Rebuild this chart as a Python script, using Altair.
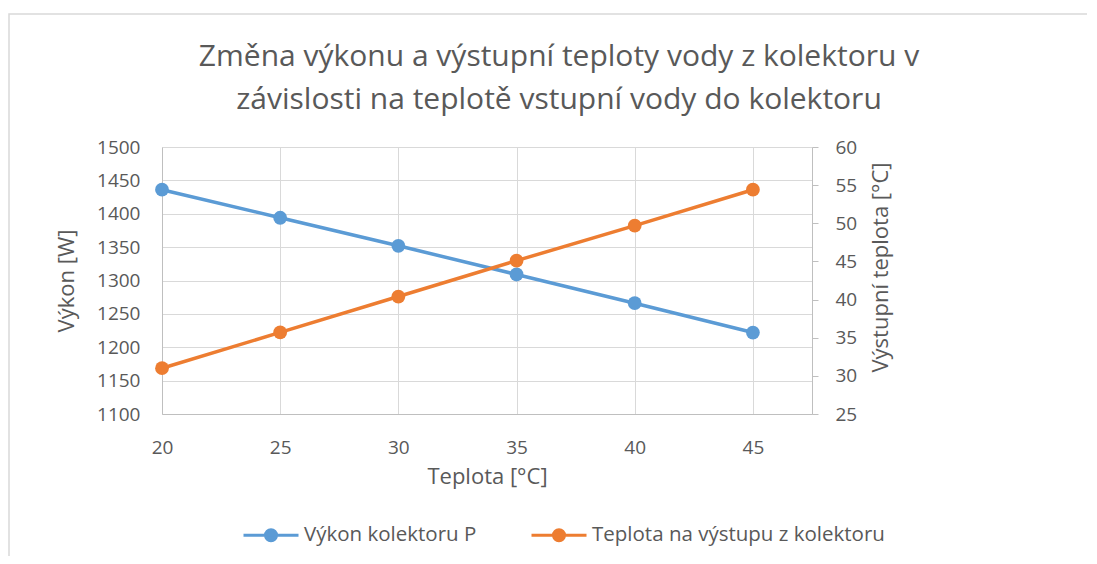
import altair as alt
import pandas as pd

x_vals = [20, 25, 30, 35, 40, 45]
power = [1436, 1394, 1352, 1309, 1266, 1222]
t_out = [31.0, 35.7, 40.4, 45.1, 49.7, 54.4]
series = ["Výkon kolektoru P", "Teplota na výstupu z kolektoru"]
colors = ["#5B9BD5", "#ED7D31"]
x_ticks = [20, 25, 30, 35, 40, 45]
left_ticks = [1100, 1150, 1200, 1250, 1300, 1350, 1400, 1450, 1500]
right_ticks = [25, 30, 35, 40, 45, 50, 55, 60]
title_lines = ["Změna výkonu a výstupní teploty vody z kolektoru v",
               "závislosti na teplotě vstupní vody do kolektoru"]

FONT = "Open Sans"
TXT = "#595959"
GRID = "#D9D9D9"
AX = "#BFBFBF"

df_p = pd.DataFrame({"x": x_vals, "v": power, "s": series[0]})
df_t = pd.DataFrame({"x": x_vals, "v": t_out, "s": series[1]})

legend_path = "M-1,0H1M0.2,0A0.2,0.2,0,1,1,-0.2,0A0.2,0.2,0,1,1,0.2,0Z"

color = alt.Color(
    "s:N",
    scale=alt.Scale(domain=series, range=colors),
    legend=alt.Legend(
        title=None, orient="none", direction="horizontal",
        legendX=80, legendY=359,
        symbolType=legend_path, symbolSize=3025, symbolStrokeWidth=3,
        labelFont=FONT, labelFontSize=20.5, labelColor=TXT, labelOffset=4,
        labelLimit=0, columnPadding=48, padding=0,
    ),
)

x_enc = alt.X(
    "x:Q",
    scale=alt.Scale(domain=[20, 47.5], nice=False, zero=False),
    axis=alt.Axis(
        values=x_ticks, title="Teplota [°C]", grid=True, gridColor=GRID,
        domainColor=AX, ticks=False, labelPadding=24, labelFlush=False, format="d",
        labelFont=FONT, labelFontSize=19, labelColor=TXT,
        titleFont=FONT, titleFontSize=22, titleColor=TXT, titleFontWeight="normal",
        titlePadding=9,
    ),
)

left = alt.Chart(df_p).encode(
    x=x_enc,
    y=alt.Y("v:Q", scale=alt.Scale(domain=[1100, 1500], nice=False, zero=False),
            axis=alt.Axis(values=left_ticks, title="Výkon [W]", grid=True, gridColor=GRID,
                          domainColor=AX, ticks=False, labelPadding=22, format="d",
                          labelFlush=False,
                          labelFont=FONT, labelFontSize=19, labelColor=TXT,
                          titleFont=FONT, titleFontSize=22, titleColor=TXT,
                          titleFontWeight="normal", titlePadding=18)),
    color=color,
)
left_l = left.mark_line(strokeWidth=3.5) + left.mark_point(filled=True, size=190, opacity=1)

right = alt.Chart(df_t).encode(
    x=x_enc,
    y=alt.Y("v:Q", scale=alt.Scale(domain=[25, 60], nice=False, zero=False),
            axis=alt.Axis(values=right_ticks, title="Výstupní teplota [°C]", orient="right",
                          grid=False, domainColor=AX, ticks=True, tickColor=AX, tickSize=6,
                          labelPadding=17, format="d", labelFlush=False,
                          titleAngle=270, titleBaseline="top", titleAlign="center",
                          titleY=120,
                          labelFont=FONT, labelFontSize=19, labelColor=TXT,
                          titleFont=FONT, titleFontSize=22, titleColor=TXT,
                          titleFontWeight="normal", titlePadding=14)),
    color=color,
)
right_l = right.mark_line(strokeWidth=3.5) + right.mark_point(filled=True, size=190, opacity=1)

border = alt.Chart(pd.DataFrame({"a": [0]})).mark_rect(
    fill="transparent", stroke=GRID, strokeWidth=1.5
).encode(x=alt.value(-153), x2=alt.value(3000), y=alt.value(-133), y2=alt.value(3000))

chart = alt.layer(border, left_l, right_l).resolve_scale(y="independent").properties(
    width=650, height=267,
    autosize=alt.AutoSizeParams(type="none"),
    padding={"left": 154, "top": 139, "right": 275, "bottom": 142},
    title=alt.TitleParams(
        text=title_lines, font=FONT, fontSize=30, color=TXT, fontWeight="normal",
        anchor="middle", frame="group", dx=72, lineHeight=43, offset=-102,
    ),
).configure_view(stroke=None)

chart.save("out.html", embed_options={"renderer": "svg", "actions": False})
